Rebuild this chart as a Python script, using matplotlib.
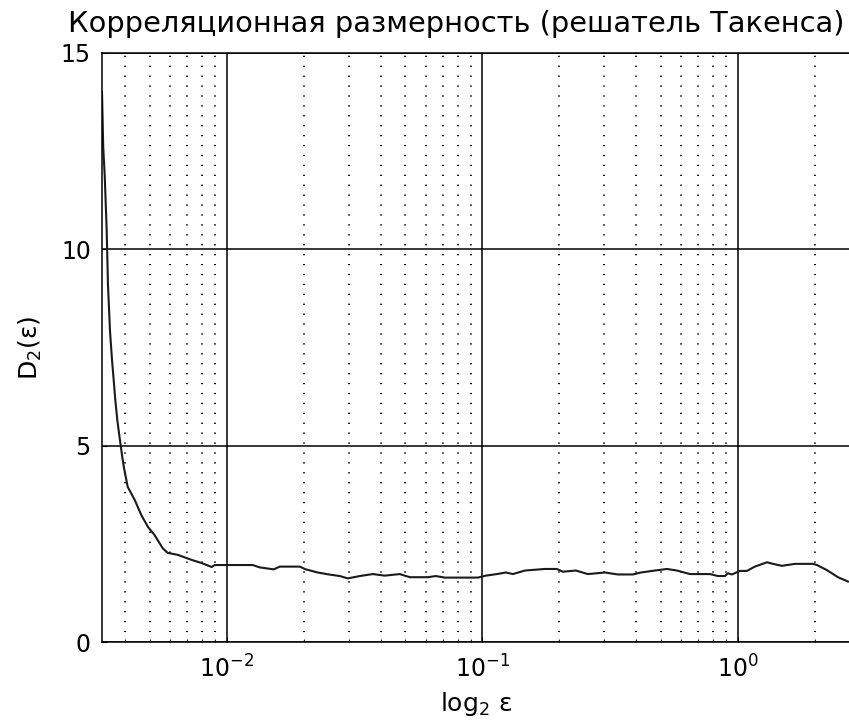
import numpy as np
import matplotlib
matplotlib.use('Agg')
from matplotlib import pyplot as plt


# correlation dimension estimate vs epsilon
eps = [0.003251, 0.003287, 0.003331, 0.003391, 0.003431, 0.003494, 0.003558,
       0.003612, 0.003668, 0.003735, 0.003813, 0.003893, 0.003964, 0.004098,
       0.004364, 0.004634, 0.004920, 0.005225, 0.005615, 0.005874, 0.006428,
       0.007295, 0.007985, 0.008736, 0.008976, 0.01009, 0.01264, 0.01346,
       0.01528, 0.01612, 0.01931, 0.02038, 0.02271, 0.02507, 0.02769, 0.02976,
       0.03316, 0.03728, 0.04153, 0.04754, 0.05203, 0.06118, 0.06577, 0.07133,
       0.09603, 0.1032, 0.1140, 0.1236, 0.1317, 0.1467, 0.1757, 0.1957, 0.2066,
       0.2323, 0.2588, 0.3017, 0.3391, 0.3881, 0.4173, 0.4732, 0.5275, 0.5771,
       0.6490, 0.7772, 0.8350, 0.8894, 0.9139, 0.9474, 1.018, 1.084, 1.165,
       1.299, 1.371, 1.487, 1.672, 1.966, 2.038, 2.230, 2.463, 2.695]
d2 = [14.01, 12.60, 11.89, 10.49, 9.09, 7.92, 7.18,
      6.67, 6.14, 5.63, 5.19, 4.76, 4.43, 3.95,
      3.62, 3.23, 2.93, 2.72, 2.39, 2.27, 2.22,
      2.09, 2.01, 1.91, 1.96, 1.96, 1.96, 1.90,
      1.85, 1.92, 1.92, 1.85, 1.77, 1.72, 1.68, 1.62,
      1.68, 1.73, 1.69, 1.73, 1.65, 1.65, 1.68, 1.64,
      1.64, 1.69, 1.73, 1.77, 1.73, 1.82, 1.86, 1.86, 1.79,
      1.82, 1.73, 1.77, 1.72, 1.72, 1.77, 1.82, 1.86, 1.82,
      1.73, 1.73, 1.68, 1.68, 1.75, 1.72, 1.81, 1.81, 1.92,
      2.03, 1.99, 1.94, 1.99, 1.99, 1.96, 1.83, 1.65, 1.54]

yticks = [0, 5, 10, 15]

plt.rcParams['font.family'] = 'DejaVu Sans'

fig = plt.figure(figsize=(8.49, 7.22), dpi=100)
ax = fig.add_axes([0.1201, 0.1108, 0.8799, 0.8158])

ax.plot(eps, d2, color='#1a1a1a', lw=1.5)

ax.set_xscale('log')
ax.set_xlim(0.00325, 2.72)
ax.set_ylim(0, 15)
ax.set_yticks(yticks)

ax.grid(True, which='major', color='black', linestyle='-', linewidth=1.1)
ax.grid(True, which='minor', axis='x', color='black',
        linestyle=(0, (0.6, 4.5)), linewidth=1.4)

ax.tick_params(which='both', direction='in', labelsize=17, colors='black')
ax.tick_params(axis='y', pad=8)
ax.tick_params(axis='x', pad=10)
ax.spines['right'].set_visible(False)
for s in ['left', 'top', 'bottom']:
    ax.spines[s].set_linewidth(1.1)

# title sits a little left of the axes centre
ax.text(0.474, 1.025, 'Корреляционная размерность (решатель Такенса)',
        transform=ax.transAxes, ha='center', va='bottom', fontsize=20.8)
ax.set_xlabel(r'log$_2$ ε', fontsize=18, labelpad=5)
ax.set_ylabel(r'D$_2$(ε)', fontsize=18, labelpad=12)

fig.savefig('out.png', dpi=100)
